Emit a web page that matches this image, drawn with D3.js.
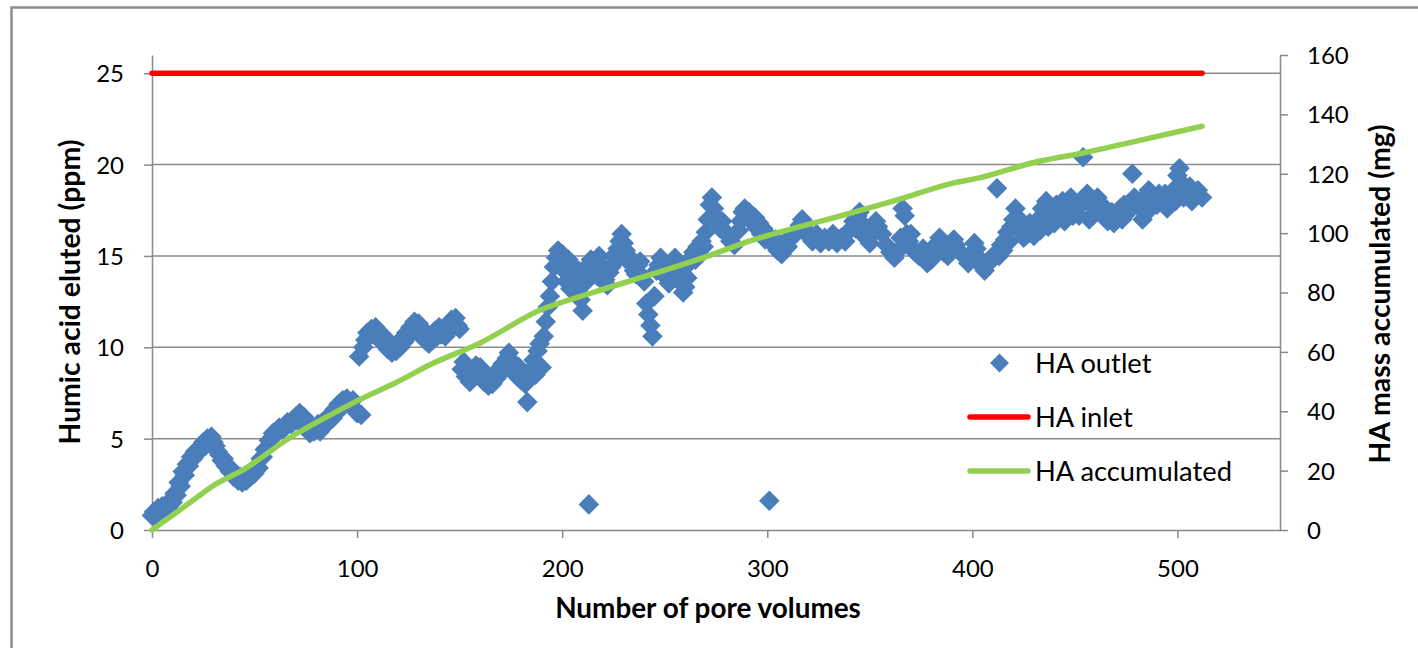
<!DOCTYPE html>
<html><head><meta charset="utf-8">
<script src="https://cdn.jsdelivr.net/npm/d3@7"></script>
<style>
body{margin:0;background:#fff}
svg{display:block}
text{font-family:Lato,"Open Sans",sans-serif;fill:#000}
</style>
</head><body>
<svg id="c" width="1418" height="648"></svg>
<script>
// ---- data: HA outlet (pore volumes, ppm) ----
const pvOutlet = [
  0,1,2,3,4,5,6,7,8,9,10,11,12,13,14,15,16,17,18,19,20,21,22,23,24,25,26,27,28,29,30,
  31,32,33,34,35,36,37,38,39,40,41,42,43,44,45,46,47,48,49,50,51,52,53,54,55,56,57,58,59,60,62,64,66,68,70,
  71,72,73,74,75,76,77,78,79,80,81,82,83,84,85,86,87,88,89,90,91,92,93,94,95,96,97,98,99,100,101,102,103,104,105,106,107,108,109,110,
  111,112,113,114,115,116,117,118,119,120,121,122,123,124,125,126,127,128,129,130,131,132,133,134,135,136,137,138,139,140,141,142,143,144,145,146,147,148,149,150,
  151,152,153,154,155,156,157,158,159,160,161,162,163,164,165,166,167,168,169,170,171,172,173,174,175,176,177,178,179,180,181,182,183,184,185,186,187,188,189,190,
  191,192,193,194,195,196,197,198,199,200,201,202,203,204,205,206,207,208,209,210,211,212,
  213,214,215,216,217,218,219,220,221,222,223,224,225,226,227,228,229,230,231,232,233,234,235,236,237,238,239,240,241,242,243,244,245,246,
  247,248,249,250,251,252,253,254,255,256,257,258,259,260,261,262,263,264,265,266,267,268,269,270,271,272,273,274,275,276,277,278,279,280,282,284,286,287,288,289,290,
  291,292,293,294,295,296,297,298,299,300,301,302,303,304,305,306,307,308,309,310,312,314,316,317,318,319,320,322,324,326,328,330,
  332,334,336,338,340,342,343,344,345,346,347,348,350,352,353,354,356,358,360,362,364,365,366,367,368,
  369,370,371,372,374,376,377,378,379,380,382,384,385,386,388,390,391,392,394,396,398,400,401,402,404,405,406,408,410,412,
  413,414,415,416,417,418,419,420,421,422,423,424,425,426,427,428,429,430,432,434,436,438,440,442,444,446,448,450,452,
  454,455,456,458,460,462,464,466,468,470,472,474,476,478,479,480,482,484,486,488,490,
  492,494,496,498,500,501,502,504,506,508,510,512,
  433,437,441,445,449,457,461,465,469,473,477,483,487,491,495,499,503,507
];
const haOutlet = [
  0.8,1.0,0.7,1.2,1.0,1.3,1.1,1.4,1.2,1.6,1.5,2.0,1.9,2.6,2.4,3.2,3.0,3.6,3.5,4.0,3.9,4.3,4.2,4.5,4.4,4.8,4.6,5.0,4.8,5.1,4.8,
  4.6,4.3,4.1,3.8,3.9,3.5,3.4,3.2,3.3,2.9,3.0,2.7,2.9,2.6,2.8,2.7,3.0,2.9,3.2,3.1,3.5,3.4,3.9,4.0,4.4,4.5,4.9,5.0,5.3,5.2,5.6,5.5,5.9,5.8,6.2,
  6.0,6.4,5.8,6.2,5.6,5.9,5.3,5.7,5.4,5.5,5.8,5.4,5.9,5.7,6.1,5.9,6.3,6.1,6.6,6.4,6.9,6.7,7.1,6.9,7.2,7.0,6.8,7.1,6.6,6.4,9.5,6.3,10.0,10.4,10.8,10.6,11.0,10.7,11.1,10.8,
  10.4,10.7,10.2,10.5,9.9,10.2,9.7,10.0,9.8,10.2,10.0,10.5,10.3,10.8,10.6,11.1,10.9,11.4,11.0,11.3,10.8,11.0,10.4,10.7,10.2,10.6,10.4,10.9,10.6,11.1,10.7,10.9,10.6,11.0,11.2,11.5,11.1,11.6,11.2,11.0,
  8.8,9.2,8.4,8.7,8.1,8.5,8.7,9.0,8.6,8.9,8.4,8.1,8.5,7.9,8.2,8.0,8.5,8.3,8.8,8.6,9.1,8.9,9.4,9.7,9.3,9.0,8.7,8.4,8.9,8.2,8.6,8.0,7.0,8.3,8.8,9.3,8.5,9.8,10.2,8.9,
  10.6,11.4,12.2,12.8,13.6,14.4,14.9,15.3,14.6,15.1,14.2,13.6,14.8,13.2,14.4,13.7,13.0,14.2,12.6,12.0,13.5,14.4,
  1.4,14.8,14.1,14.6,13.9,15.0,14.5,14.2,13.7,13.4,14.1,14.4,15.0,14.7,15.4,15.8,16.2,15.7,15.3,15.0,14.6,14.8,14.2,14.0,14.5,14.7,13.9,13.6,12.4,11.8,11.2,10.6,12.8,14.2,
  14.5,14.9,14.2,14.6,13.8,13.5,14.1,14.4,14.9,14.6,14.1,13.5,13.0,13.3,13.8,14.6,14.9,15.2,14.8,15.5,15.3,15.8,15.5,16.3,17.0,17.8,18.2,17.6,17.1,16.8,16.5,16.9,16.4,16.2,15.8,15.6,16.4,16.9,17.4,17.6,17.2,
  17.4,17.0,16.8,17.1,16.5,16.8,16.2,16.5,15.9,16.2,1.6,15.9,15.6,15.9,15.3,15.6,15.1,15.4,15.8,15.5,16.0,16.4,16.7,17.0,16.8,16.4,16.1,15.8,16.2,15.7,16.0,15.8,
  16.2,15.7,16.0,15.8,16.4,16.9,16.5,17.2,17.4,16.8,16.3,16.0,15.7,16.3,16.9,16.6,16.2,15.6,15.2,14.9,15.3,16.0,17.6,17.2,16.2,
  15.8,16.2,15.4,15.2,15.0,15.4,14.8,14.6,15.1,14.8,15.6,16.0,15.5,15.2,15.0,15.4,15.9,15.6,15.2,15.0,14.6,15.2,15.7,15.4,14.8,14.4,14.2,14.6,15.0,18.7,
  15.0,15.6,15.3,15.9,16.3,15.8,16.6,17.0,17.6,16.8,16.4,16.9,16.0,16.5,16.2,16.8,16.4,16.1,17.0,17.6,18.0,17.2,16.8,17.4,18.0,17.6,18.2,17.6,17.2,
  20.4,18.0,18.4,17.8,17.4,17.8,17.2,16.9,17.4,17.2,17.6,17.8,17.4,19.5,18.2,17.8,17.6,18.2,18.6,18.2,17.8,
  18.0,18.4,18.0,18.6,19.4,19.8,19.0,18.6,18.8,18.4,18.6,18.2,
  16.4,16.6,17.8,16.9,17.2,17.0,18.2,17.6,16.8,17.0,17.8,17.0,17.6,18.4,17.6,18.0,18.2,18.0
];
// ---- HA inlet (ppm) ----
const pvInlet = [0, 512];
const haInlet = [25, 25];
// ---- HA accumulated (mg, secondary axis) ----
const pvAccum = [0,10,20,30,45,67,85,100,120,135,160,189,215,243,270,292,315,340,365,389,404,430,454,480,512];
const haAccum = [0,5,10,15,20.5,31,38,43.5,50,55.5,63,74,80,86,92,97.5,102,106.6,111.5,116.6,118.7,123.8,127,131,136];
// ---- ticks & labels ----
const xTicks = [0,100,200,300,400,500];
const yLeftTicks = [0,5,10,15,20,25];
const yRightTicks = [0,20,40,60,80,100,120,140,160];
const seriesNames = ["HA outlet","HA inlet","HA accumulated"];
const titles = {x:"Number of pore volumes", yL:"Humic acid eluted (ppm)", yR:"HA mass accumulated (mg)"};

// ---- drawing ----
const svg = d3.select("#c");
const W = 1418, H = 648;
const pLeft = 152, pRight = 1280, pTop = 55, pBottom = 530;
const x = d3.scaleLinear().domain([0,550]).range([pLeft,pRight]);
const yL = d3.scaleLinear().domain([0,26]).range([pBottom,pTop]);
const yR = d3.scaleLinear().domain([0,160]).range([pBottom,pTop]);
const gridCol = "#8a8a8a";

svg.append("rect").attr("x",0).attr("y",0).attr("width",W).attr("height",H).attr("fill","#fff");
svg.append("rect").attr("x",11.5).attr("y",7.5).attr("width",1500).attr("height",700)
  .attr("fill","none").attr("stroke","#8c8c8c").attr("stroke-width",2.5);

// gridlines
svg.append("g").selectAll("line").data(yLeftTicks.filter(d=>d>0)).join("line")
  .attr("x1",pLeft).attr("x2",pRight).attr("y1",d=>yL(d)).attr("y2",d=>yL(d))
  .attr("stroke",gridCol).attr("stroke-width",1.5);

function styleAxis(g){
  g.selectAll("path,line").attr("stroke",gridCol).attr("stroke-width",1.5);
  g.selectAll("text").attr("font-size",24).attr("fill","#000")
   .attr("font-family","Lato,'Open Sans',sans-serif");
}
const gx = svg.append("g").attr("transform",`translate(0,${pBottom})`)
  .call(d3.axisBottom(x).tickValues(xTicks).tickSize(8).tickSizeOuter(0).tickFormat(d3.format("d")));
styleAxis(gx);
gx.selectAll("text").attr("y",39).attr("dy","0.35em");

const gl = svg.append("g").attr("transform",`translate(${pLeft},0)`)
  .call(d3.axisLeft(yL).tickValues(yLeftTicks).tickSize(8).tickSizeOuter(0).tickFormat(d3.format("d")));
styleAxis(gl);
gl.selectAll("text").attr("x",-28).attr("dy","0.35em");

const gr = svg.append("g").attr("transform",`translate(${pRight},0)`)
  .call(d3.axisRight(yR).tickValues(yRightTicks).tickSize(8).tickSizeOuter(0).tickFormat(d3.format("d")));
styleAxis(gr);
gr.selectAll("text").attr("x",27).attr("dy","0.35em");

// series
const blue = "#4A7EBB", red = "#FF0000", green = "#92D050";
const diamond = "M0,-10.3L10.3,0L0,10.3L-10.3,0Z";
svg.append("g").selectAll("path").data(pvOutlet.map((p,i)=>[p,haOutlet[i]])).join("path")
  .attr("d",diamond).attr("fill",blue)
  .attr("transform",d=>`translate(${x(d[0])},${yL(d[1])})`);

svg.append("path").datum(pvInlet.map((p,i)=>[p,haInlet[i]]))
  .attr("d",d3.line().x(d=>x(d[0])).y(d=>yL(d[1])))
  .attr("fill","none").attr("stroke",red).attr("stroke-width",5.5).attr("stroke-linecap","round");

svg.append("path").datum(pvAccum.map((p,i)=>[p,haAccum[i]]))
  .attr("d",d3.line().curve(d3.curveMonotoneX).x(d=>x(d[0])).y(d=>yR(d[1])))
  .attr("fill","none").attr("stroke",green).attr("stroke-width",5.5)
  .attr("stroke-linecap","round").attr("stroke-linejoin","round");

// legend
const lg = svg.append("g");
const ly = [363, 417, 471];
lg.append("path").attr("d","M0,-9.5L9.5,0L0,9.5L-9.5,0Z").attr("fill",blue).attr("transform",`translate(999.5,${ly[0]})`);
lg.append("line").attr("x1",970).attr("x2",1028).attr("y1",ly[1]).attr("y2",ly[1])
  .attr("stroke",red).attr("stroke-width",5.5).attr("stroke-linecap","round");
lg.append("line").attr("x1",970).attr("x2",1028).attr("y1",ly[2]).attr("y2",ly[2])
  .attr("stroke",green).attr("stroke-width",5.5).attr("stroke-linecap","round");
const lt = lg.selectAll("text").data(seriesNames).join("text")
  .attr("x",1035).attr("y",(d,i)=>ly[i]).attr("dy","0.35em").attr("font-size",25).text(d=>d);

// titles
function fitSize(node, fs, target){
  const len = node.getComputedTextLength();
  return len>0 ? fs*target/len : fs;
}
const lfs = fitSize(lt.nodes()[2], 25, 197);
lt.attr("font-size", lfs);

const tx = svg.append("text").attr("x",708).attr("y",608).attr("dy","0.35em")
  .attr("text-anchor","middle").attr("font-weight","bold").attr("font-size",25).text(titles.x);
tx.attr("font-size", fitSize(tx.node(),25,306));
const tl = svg.append("text").attr("transform","translate(70,292) rotate(-90)").attr("dy","0.35em")
  .attr("text-anchor","middle").attr("font-weight","bold").attr("font-size",25).text(titles.yL);
tl.attr("font-size", fitSize(tl.node(),25,305));
const tr = svg.append("text").attr("transform","translate(1380,294) rotate(-90)").attr("dy","0.35em")
  .attr("text-anchor","middle").attr("font-weight","bold").attr("font-size",25).text(titles.yR);
tr.attr("font-size", fitSize(tr.node(),25,339));
</script>
</body></html>
